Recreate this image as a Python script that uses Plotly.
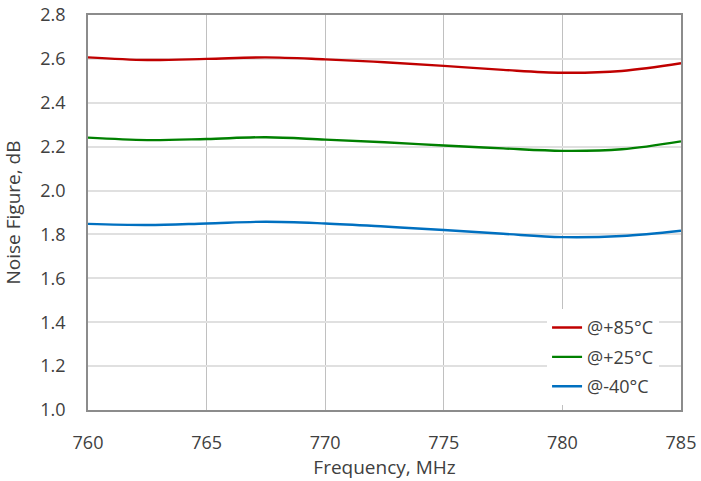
import plotly.graph_objects as go

freq = [760, 762.5, 765, 767.5, 770, 772.5, 775, 777.5, 780, 782.5, 785]
nf_p85 = [2.607, 2.595, 2.600, 2.607, 2.598, 2.585, 2.568, 2.550, 2.537, 2.545, 2.580]
nf_p25 = [2.241, 2.230, 2.235, 2.243, 2.232, 2.220, 2.205, 2.192, 2.181, 2.188, 2.224]
nf_m40 = [1.848, 1.843, 1.850, 1.858, 1.850, 1.836, 1.820, 1.803, 1.788, 1.793, 1.817]

names = ["@+85°C", "@+25°C", "@-40°C"]
colors = ["#C00000", "#008000", "#0070C0"]

font = "'Open Sans', sans-serif"
fig = go.Figure()
for y, n, c in zip([nf_p85, nf_p25, nf_m40], names, colors):
    fig.add_trace(go.Scatter(x=freq, y=y, name=n, mode="lines", legendgroup=n,
                             line=dict(color=c, width=2.4, shape="spline", smoothing=1.0)))

fig.update_layout(
    width=701, height=481,
    margin=dict(l=88, r=20, t=15, b=71),
    paper_bgcolor="white", plot_bgcolor="white",
    font=dict(family=font, color="#404040", size=17),
    showlegend=True,
    legend=dict(x=0.963, y=0.012, xanchor="right", yanchor="bottom",
                bgcolor="white", font=dict(size=18, color="#404040"),
                tracegroupgap=3, itemwidth=30),
    xaxis=dict(range=[760, 785], tickvals=[760, 765, 770, 775, 780, 785],
               showgrid=True, gridcolor="#c0c0c0", gridwidth=1,
               showline=True, linecolor="#8c8c8c", linewidth=1.5, mirror=True,
               ticks="", ticklabelstandoff=16, zeroline=False, automargin=False,
               ticklabeloverflow="allow", tickfont=dict(size=18),
               title=dict(text="Frequency, MHz", font=dict(size=19), standoff=4)),
    yaxis=dict(range=[1.0, 2.8], tickvals=[1.0, 1.2, 1.4, 1.6, 1.8, 2.0, 2.2, 2.4, 2.6, 2.8],
               tickformat=".1f",
               showgrid=True, gridcolor="#e0e0e0", gridwidth=1.5,
               showline=True, linecolor="#8c8c8c", linewidth=1.5, mirror=True,
               ticks="", ticklabelstandoff=17, zeroline=False, automargin=False,
               ticklabeloverflow="allow", tickfont=dict(size=18),
               title=dict(text="Noise Figure, dB", font=dict(size=19), standoff=15)),
)
fig.write_html("out.html", config={"displayModeBar": False},
               post_script="document.body.style.margin='0';")
